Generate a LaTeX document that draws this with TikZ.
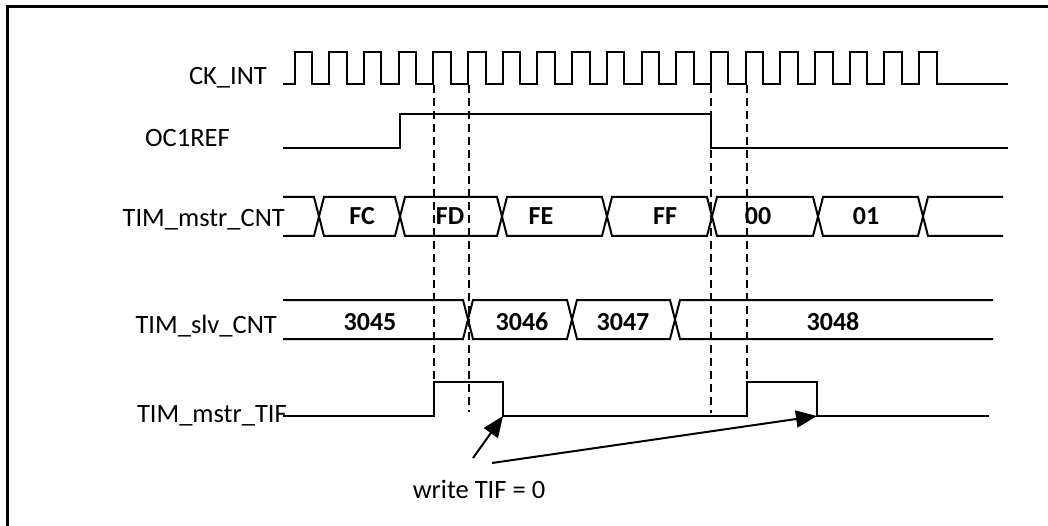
\documentclass[tikz,border=0pt]{standalone}
\usepackage{fontspec}
\setmainfont{Carlito}
\usetikzlibrary{arrows.meta}
\begin{document}
\begin{tikzpicture}[x=1pt,y=-1pt,
  wave/.style={line width=2pt, line join=miter},
  guide/.style={line width=2.2pt, dash pattern=on 8pt off 5pt},
  sig/.style={font=\fontsize{26.5}{30}\selectfont, inner sep=0pt, anchor=base east},
  val/.style={font=\fontsize{26}{30}\selectfont\bfseries, inner sep=0pt, anchor=base},
  note/.style={font=\fontsize{26.5}{30}\selectfont, inner sep=0pt, anchor=base},
  pointer/.style={line width=2pt, -{Triangle[length=21pt,width=17pt]}}
]
\useasboundingbox (0,0) rectangle (1048,526);
% frame
\draw[line width=3pt] (7,526) -- (7,7) -- (1048,7);

% signal names
\node[sig] (ckl)  at (267,85)  {CK\_INT};
\node[sig] (ocl)  at (230,147) {OC1REF};
\node[sig] (mcl)  at (285,227) {TIM\_mstr\_CNT};
\node[sig] (scl)  at (277,333) {TIM\_slv\_CNT};
\node[sig] (tifl) at (287,422) {TIM\_mstr\_TIF};

% CK_INT
\draw[wave] (283,84)
  \foreach \k in {0,...,18}{
    -- ({294.5+34.7*\k},84) -- ({294.5+34.7*\k},52)
    -- ({312+34.7*\k},52) -- ({312+34.7*\k},84)}
  -- (1008,84);

% OC1REF
\draw[wave] (283,148) -- (400,148) -- (400,114) -- (711,114) -- (711,148) -- (1008,148);

% TIM_mstr_CNT bus
\draw[wave] (283,197) -- (314,197) -- (319,216.5) -- (314,236) -- (283,236);
\foreach \a/\b in {319/400,400/502,502/607,607/712,712/818,818/923}{
  \draw[wave] ({\a+5},197) -- ({\b-5},197) -- (\b,216.5) -- ({\b-5},236)
    -- ({\a+5},236) -- (\a,216.5) -- cycle;
}
\draw[wave] (1003,197) -- (928,197) -- (923,216.5) -- (928,236) -- (1003,236);

\node[val] (vfc) at (362,225) {FC};
\node[val] (vfd) at (450,225) {FD};
\node[val] (vfe) at (541,225) {FE};
\node[val] (vff) at (665,225) {FF};
\node[val] (v00) at (758,225) {00};
\node[val] (v01) at (866,225) {01};

% TIM_slv_CNT bus
\draw[wave] (283,300) -- (463,300) -- (468,319.5) -- (463,339) -- (283,339);
\foreach \a/\b in {468/572,572/675}{
  \draw[wave] ({\a+5},300) -- ({\b-5},300) -- (\b,319.5) -- ({\b-5},339)
    -- ({\a+5},339) -- (\a,319.5) -- cycle;
}
\draw[wave] (993,300) -- (680,300) -- (675,319.5) -- (680,339) -- (993,339);

\node[val] (s45) at (370,330) {3045};
\node[val] (s46) at (522,330) {3046};
\node[val] (s47) at (623,330) {3047};
\node[val] (s48) at (833,330) {3048};

% TIM_mstr_TIF
\coordinate (fall1) at (503,416);
\coordinate (fall2) at (817,416);
\draw[wave] (283,416) -- (434,416) -- (434,382) -- (503,382) -- (fall1)
  -- (747,416) -- (747,382) -- (817,382) -- (fall2) -- (989,416);

% dashed guides
\draw[guide] (434,85) -- (434,382);
\draw[guide] (469,85) -- (469,412);
\draw[guide] (711,85) -- (711,413);
\draw[guide] (747,85) -- (747,382);

% note and arrows
\node[note] (wr) at (479,498) {write TIF = 0};
\coordinate (t1) at (473,458);
\coordinate (t2) at (492,463);
\draw[pointer] (t1) -- (fall1);
\draw[pointer] (t2) -- (fall2);
\end{tikzpicture}
\end{document}
